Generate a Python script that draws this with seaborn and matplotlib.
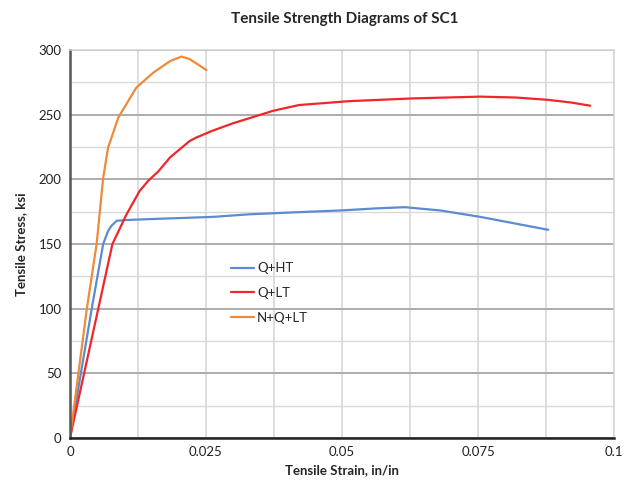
"""Tensile strength diagrams of SC1 (stress-strain curves for three heat treatments)."""

import numpy as np
import pandas as pd
import seaborn as sns
import matplotlib.pyplot as plt
from matplotlib.ticker import MultipleLocator

# Q+HT curve
strain_q_ht = [0.0, 0.0040, 0.0061, 0.0070, 0.0076, 0.0086, 0.0101, 0.0129, 0.0263,
               0.033, 0.044, 0.050, 0.0560, 0.0615, 0.0680, 0.0754, 0.0879]
stress_q_ht = [0, 100, 150, 160, 164, 168, 168.5, 169, 171,
               173, 175, 176, 177.5, 178.5, 176, 171, 161]

# Q+LT curve
strain_q_lt = [0.0, 0.0052, 0.0078, 0.0104, 0.0128, 0.0144, 0.0162, 0.0184, 0.0220,
               0.0233, 0.0263, 0.0299, 0.0373, 0.0421, 0.0513, 0.0629, 0.0754,
               0.0820, 0.0879, 0.0920, 0.0956]
stress_q_lt = [0, 100, 150, 173, 191, 199, 206, 217, 229.7,
               232.5, 237.8, 243.3, 253, 257.5, 260.5, 262.6, 264,
               263.3, 261.5, 259.5, 257]

# N+Q+LT curve
strain_nq_lt = [0.0, 0.0031, 0.0049, 0.0061, 0.0070, 0.0089, 0.0122, 0.0153, 0.0184,
                0.0205, 0.0220, 0.0251]
stress_nq_lt = [0, 100, 150, 201, 224.5, 248, 271, 282.5, 291.5, 295, 293, 284.5]

series_names = ["Q+HT", "Q+LT", "N+Q+LT"]
series_colors = ["#5b8bd0", "#f0262b", "#ee8a3a"]

frames = []
for name, xs, ys in zip(series_names,
                        [strain_q_ht, strain_q_lt, strain_nq_lt],
                        [stress_q_ht, stress_q_lt, stress_nq_lt]):
    frames.append(pd.DataFrame({"strain": xs, "stress": ys, "series": name,
                                "order": np.arange(len(xs))}))
df = pd.concat(frames, ignore_index=True)

sns.set_style("white")
plt.rcParams["font.family"] = ["Lato", "DejaVu Sans"]

fig = plt.figure(figsize=(6.39, 4.91), dpi=100)
ax = fig.add_axes([0.1095, 0.108, 0.8515, 0.79])

sns.lineplot(data=df, x="strain", y="stress", hue="series", hue_order=series_names,
             palette=series_colors, sort=False, estimator=None, linewidth=1.6, ax=ax)

ax.set_xlim(0, 0.1)
ax.set_ylim(0, 300)
ax.xaxis.set_major_locator(MultipleLocator(0.025))
ax.xaxis.set_minor_locator(MultipleLocator(0.0125))
ax.yaxis.set_major_locator(MultipleLocator(50))
ax.yaxis.set_minor_locator(MultipleLocator(25))
ax.set_xticks([0, 0.025, 0.05, 0.075, 0.1])
ax.set_xticklabels(["0", "0.025", "0.05", "0.075", "0.1"])

ax.grid(which="major", axis="y", color="#a6a6a6", linewidth=1.3)
ax.grid(which="minor", axis="y", color="#d9d9d9", linewidth=1.0)
ax.grid(which="both", axis="x", color="#d4d4d4", linewidth=1.1)
ax.set_axisbelow(True)

ax.tick_params(which="both", length=0, labelsize=9.5, colors="#222222", pad=6)

for side in ["top", "right"]:
    ax.spines[side].set_color("#d4d4d4")
    ax.spines[side].set_linewidth(1.1)
ax.spines["left"].set_color("#555555")
ax.spines["left"].set_linewidth(1.8)
ax.spines["bottom"].set_color("#222222")
ax.spines["bottom"].set_linewidth(1.8)

ax.set_xlabel("Tensile Strain, in/in", fontsize=9.5, fontweight="bold", labelpad=4)
ax.set_ylabel("Tensile Stress, ksi", fontsize=9.5, fontweight="bold", labelpad=8)
fig.suptitle("Tensile Strength Diagrams of SC1", x=0.54, y=0.975, fontsize=11,
             fontweight="bold")

leg = ax.legend(loc="upper left", bbox_to_anchor=(0.275, 0.483), frameon=False,
                fontsize=9.5, handlelength=1.7, handletextpad=0.25, labelspacing=0.95)
for line in leg.get_lines():
    line.set_linewidth(1.6)

fig.savefig("out.png", dpi=100)
